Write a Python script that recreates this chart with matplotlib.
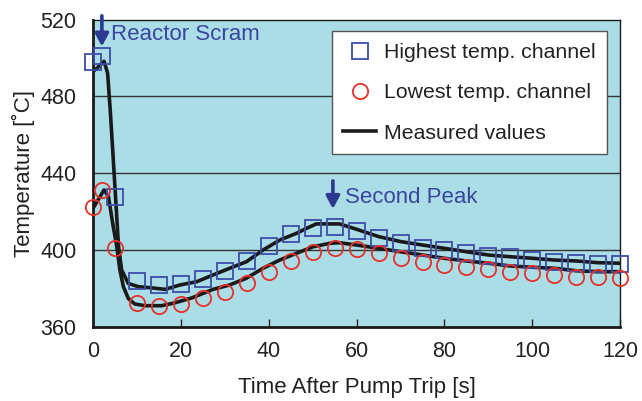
import matplotlib
matplotlib.use("Agg")
import matplotlib.pyplot as plt

plt.rcParams['font.family'] = ['Liberation Sans', 'DejaVu Sans']

# Marker data (computed channels)
t_markers = [0, 2, 5, 10, 15, 20, 25, 30, 35, 40, 45, 50, 55, 60, 65, 70,
             75, 80, 85, 90, 95, 100, 105, 110, 115, 120]
highest = [497.7, 500.9, 427.8, 383.9, 381.6, 382.1, 385.0, 389.2, 394.4, 402.1,
           408.2, 411.3, 412.2, 410.1, 406.4, 403.8, 401.2, 400.0, 398.6, 397.0,
           396.2, 394.8, 393.6, 393.1, 392.6, 392.6]
lowest = [422.6, 431.5, 401.2, 372.2, 370.8, 371.7, 374.8, 378.3, 382.6, 388.7,
          394.4, 398.8, 400.9, 400.4, 398.3, 396.0, 393.9, 392.2, 391.0, 389.9,
          388.7, 387.9, 387.0, 386.1, 386.1, 385.6]

# Measured values (two black curves)
t_meas_hi = [0, 1, 2.5, 3.3, 3.9, 4.6, 5.2, 5.8, 6.5, 8, 10.3, 13.3, 16.4, 18.6,
             19.8, 23.6, 27.3, 31.1, 34.9, 38.7, 42.5, 46.3, 48.6, 50.8, 56.1,
             60, 65, 70, 75, 80, 85, 90, 95, 100, 105, 110, 115, 120]
meas_hi = [493.0, 495.0, 498.3, 492.2, 473.0, 447.0, 424.4, 401.7, 389.6, 382.6,
           380.9, 380.3, 379.5, 381.0, 381.8, 383.5, 387.0, 390.5, 393.9, 400.0,
           405.2, 408.7, 411.3, 413.6, 413.6, 410.8, 407.0, 404.4, 402.6, 400.9,
           399.1, 397.4, 396.5, 395.7, 394.8, 394.3, 393.4, 393.1]
t_meas_lo = [0, 2.5, 3.5, 4.6, 5.4, 6.1, 6.9, 8, 9.5, 11.8, 15.6, 18.6, 22.4,
             27.3, 31.1, 34.9, 38.7, 42.5, 46.3, 50.1, 53.9, 56.1, 60, 65, 70,
             75, 80, 85, 90, 95, 100, 105, 110, 115, 120]
meas_lo = [421.8, 431.3, 427.8, 412.0, 401.7, 389.6, 380.9, 374.8, 371.9, 371.0,
           371.0, 372.5, 375.0, 379.5, 381.8, 385.3, 390.5, 394.8, 398.3, 401.7,
           403.5, 403.8, 402.6, 400.9, 399.1, 397.4, 395.7, 394.3, 393.1, 391.7,
           391.0, 390.5, 389.2, 388.7, 388.7]

x_ticks = [0, 20, 40, 60, 80, 100, 120]
y_ticks = [360, 400, 440, 480, 520]

bg = '#AADDE6'
blue_m = '#3D4EA8'
red_m = '#E8302A'
ann_col = '#3A45A0'
arrow_col = '#2B3990'

fig = plt.figure(figsize=(6.42, 4.01), dpi=100)
ax = fig.add_axes([0.145, 0.185, 0.821, 0.766])
ax.set_facecolor(bg)

for yv in [400, 440, 480]:
    ax.axhline(yv, color='#333333', lw=1.0, zorder=1)

ax.plot(t_meas_hi, meas_hi, color='#1a1a1a', lw=2.6, zorder=3, solid_joinstyle='round')
ax.plot(t_meas_lo, meas_lo, color='#1a1a1a', lw=2.6, zorder=3, solid_joinstyle='round',
        label='Measured values')
ax.plot(t_markers, highest, ls='none', marker='s', ms=11, mfc='none', mec=blue_m,
        mew=1.3, clip_on=False, zorder=4, label='Highest temp. channel')
ax.plot(t_markers, lowest, ls='none', marker='o', ms=11, mfc='none', mec=red_m,
        mew=1.3, clip_on=False, zorder=4, label='Lowest temp. channel')

ax.set_xlim(0, 120)
ax.set_ylim(360, 520)
ax.set_xticks(x_ticks)
ax.set_yticks(y_ticks)
ax.tick_params(axis='x', direction='in', length=6, width=1, labelsize=15.5, pad=10,
               colors='#222222')
ax.tick_params(axis='y', length=0, labelsize=15.5, pad=12, colors='#222222')

ax.spines['left'].set_linewidth(2.0)
ax.spines['bottom'].set_linewidth(2.0)
ax.spines['top'].set_linewidth(1.0)
ax.spines['right'].set_linewidth(1.0)
for s in ax.spines.values():
    s.set_color('#1a1a1a')

ax.set_xlabel('Time After Pump Trip [s]', fontsize=16, color='#222222', labelpad=11)
ax.set_ylabel('Temperature [˚C]', fontsize=16, color='#222222', labelpad=4)

# Annotations
arrow_props = dict(arrowstyle='-|>,head_width=0.4,head_length=0.75',
                   color=arrow_col, lw=2.6, shrinkA=0, shrinkB=0)
ax.annotate('', xy=(2, 506.0), xytext=(2, 522.0), arrowprops=arrow_props,
            annotation_clip=False)
ax.text(4, 512.5, 'Reactor Scram', color=ann_col, fontsize=16, va='center', ha='left')
ax.annotate('', xy=(54.6, 421.4), xytext=(54.6, 436.0), arrowprops=arrow_props)
ax.text(57.3, 427.5, 'Second Peak', color=ann_col, fontsize=16, va='center', ha='left')

handles, labels = ax.get_legend_handles_labels()
order = [1, 2, 0]
leg = ax.legend([handles[i] for i in order], [labels[i] for i in order],
                loc='upper right', bbox_to_anchor=(0.975, 0.962), fontsize=15.3,
                frameon=True, fancybox=False, edgecolor='#555555', framealpha=1,
                facecolor='white',
                handlelength=1.55, handletextpad=0.35, labelspacing=1.0,
                borderpad=0.55, borderaxespad=0)
leg.get_frame().set_linewidth(1.0)
for t in leg.get_texts():
    t.set_color('#222222')

fig.savefig('out.png', dpi=100, facecolor='white')
